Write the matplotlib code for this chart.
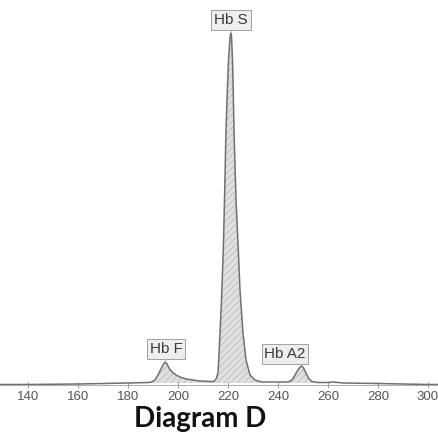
import matplotlib.pyplot as plt
import numpy as np

plt.rcParams['hatch.linewidth'] = 0.5

# electrophoresis trace: retention position vs. detector signal (baseline = 0)
position = [128.8, 140, 160, 180, 188,
            189.5, 190.8, 192.0, 193.2, 194.0, 194.8, 195.6, 196.4, 197.6,
            199.2, 200.8, 203.2, 206.0, 208.8, 212.8, 214.4,
            215.48, 216.0, 216.4, 216.8, 217.4, 218.12, 218.6, 219.2, 219.6,
            220.2, 220.8, 221.08, 221.4, 221.8, 222.0, 222.4, 223.2, 224.12,
            224.8, 226.0, 227.2, 228.8, 230.8, 233.6,
            240.8, 244.0, 245.6, 246.8, 248.0, 248.8, 249.5, 250.2, 251.2,
            252.4, 253.6, 256.0, 260.0, 262.0, 266.0, 280.0, 300.0, 304.0]
signal = [-1.5, -1.5, -1.0, 0.0, 0.5,
          1, 3, 8, 14, 18, 21, 19, 15, 11,
          8, 6, 4, 3, 2, 1.5, 1.5,
          5, 11, 28, 50, 83, 133, 183, 253, 283,
          323, 345, 350, 347, 323, 303, 253, 183, 133,
          93, 50, 23, 8, 3, 1,
          1, 1, 3, 8, 13, 16, 17, 15, 10,
          4, 1.5, 0.5, 0.5, 1, 0, -0.5, -1.5, -1.5]

peak_names = ['Hb F', 'Hb S', 'Hb A2']
peak_windows = [(189.0, 214.4), (214.4, 234.0), (243.5, 256.0)]
peak_tops = [(194.8, 21), (221.08, 350), (249.5, 17)]
label_pos = [(195.2, 34), (221.2, 363), (242.8, 29)]

x = np.array(position)
y = np.array(signal)

fig = plt.figure(figsize=(4.38, 4.36), dpi=100)
ax = fig.add_axes([0, 1 - 384.5 / 436, 1, 384.5 / 436])

for lo, hi in peak_windows:
    m = (x >= lo) & (x <= hi)
    ax.fill_between(x[m], y[m], 0, facecolor='#e0e0e0', edgecolor='#b4b4b4',
                    hatch='/////', linewidth=0)
ax.plot(x, y, color='#707070', lw=1.1)

for name, (px, py), (lx, ly) in zip(peak_names, peak_tops, label_pos):
    ax.plot([px, px], [py + 2, py + 6], color='#999999', lw=0.6)
    ax.text(lx, ly, name, ha='center', va='center', fontsize=11,
            family='Liberation Sans', color='#3a3a3a',
            bbox=dict(boxstyle='square,pad=0.18', fc='#eeeeee', ec='#a0a0a0', lw=0.7))

ax.set_xlim(128.8, 304)
ax.set_ylim(-1.5, 383)
ax.set_xticks(range(140, 301, 20))
ax.set_yticks([])
for s in ['top', 'left', 'right']:
    ax.spines[s].set_visible(False)
ax.spines['bottom'].set_color('#a0a0a0')
ax.spines['bottom'].set_linewidth(0.6)
ax.tick_params(axis='x', direction='inout', length=5, width=0.6, color='#8a8a8a',
               pad=2, labelsize=9.5, labelcolor='#555555')
for lab in ax.get_xticklabels():
    lab.set_family('Liberation Sans')

fig.text(200 / 438, 1 - 419 / 436, 'Diagram D', ha='center', va='center',
         fontsize=20, fontweight='bold', family='Lato', color='#111111')

fig.savefig('out.png', dpi=100, facecolor='white')
